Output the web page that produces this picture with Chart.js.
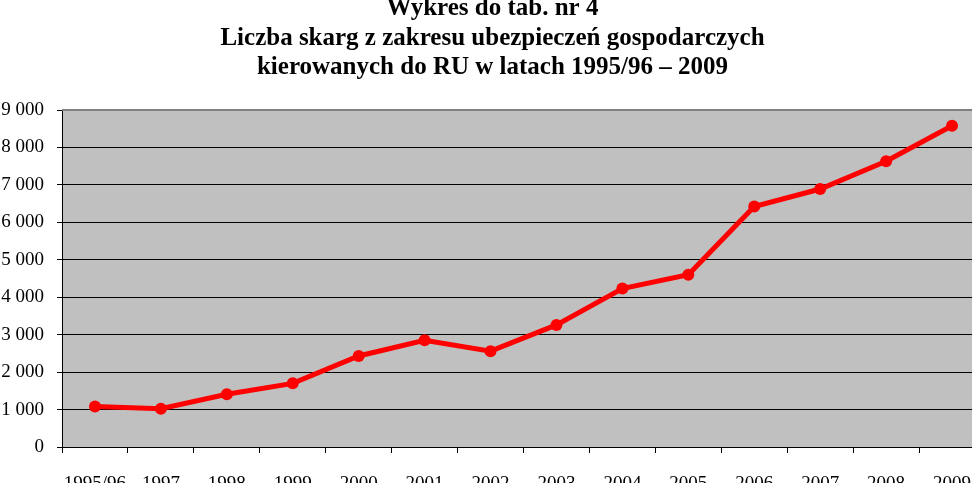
<!DOCTYPE html>
<html lang="pl">
<head>
<meta charset="utf-8">
<title>Wykres do tab. nr 4</title>
<script src="https://cdn.jsdelivr.net/npm/chart.js@4/dist/chart.umd.min.js"></script>
<style>
  html, body { margin: 0; padding: 0; background: #fff; overflow: hidden; }
  #wrap { width: 972px; height: 483px; position: relative; overflow: hidden; }
  /* the original plot runs past the right edge of the picture */
  #box { width: 992px; height: 483px; position: absolute; left: 0; top: 0; }
</style>
</head>
<body>
<div id="wrap"><div id="box"><canvas id="chart"></canvas></div></div>
<script>
// ---------- Data ----------
const titleLines = [
  "Wykres do tab. nr 4",
  "Liczba skarg z zakresu ubezpieczeń gospodarczych",
  "kierowanych do RU w latach 1995/96 – 2009"
];
const years = ["1995/96", "1997", "1998", "1999", "2000", "2001", "2002",
               "2003", "2004", "2005", "2006", "2007", "2008", "2009"];
const complaints = [1080, 1020, 1410, 1700, 2430, 2850, 2560,
                    3260, 4230, 4600, 6420, 6890, 7630, 8580];
const yMin = 0, yMax = 9000, yStep = 1000;

const serif = "'Liberation Serif', 'Times New Roman', serif";

// gray plot background + gray top frame
const plotFrame = {
  id: "plotFrame",
  beforeDraw(chart) {
    const { ctx, chartArea: a } = chart;
    ctx.save();
    ctx.fillStyle = "#c0c0c0";
    ctx.fillRect(a.left, a.top, a.right - a.left, a.bottom - a.top);
    ctx.restore();
  },
  beforeDatasetsDraw(chart) {
    const { ctx, chartArea: a } = chart;
    ctx.save();
    ctx.strokeStyle = "#808080";
    ctx.lineWidth = 2;
    ctx.beginPath();
    ctx.moveTo(a.left, a.top);
    ctx.lineTo(a.right, a.top);
    ctx.lineTo(a.right, a.bottom);
    ctx.stroke();
    ctx.restore();
  }
};

const fmt = (v) => String(v).replace(/\B(?=(\d{3})+(?!\d))/g, " ");

new Chart(document.getElementById("chart"), {
  type: "line",
  data: {
    labels: years,
    datasets: [{
      data: complaints,
      borderColor: "#ff0000",
      backgroundColor: "#ff0000",
      borderWidth: 5,
      pointRadius: 6,
      pointHoverRadius: 6,
      pointBorderWidth: 0,
      tension: 0,
      clip: false
    }]
  },
  options: {
    responsive: true,
    maintainAspectRatio: false,
    animation: false,
    layout: { padding: { left: 0, right: 7, top: 0, bottom: 0 } },
    plugins: {
      legend: { display: false },
      tooltip: { enabled: false },
      title: {
        display: true,
        text: titleLines,
        color: "#000",
        font: { family: serif, size: 25, weight: "bold", lineHeight: 1.18 },
        padding: { top: -6, bottom: 27.5 }
      }
    },
    scales: {
      x: {
        offset: true,
        grid: { offset: true, drawOnChartArea: false, drawTicks: true, tickLength: 6, tickColor: "#000", lineWidth: 1 },
        border: { display: true, color: "#000", width: 1 },
        ticks: { color: "#000", font: { family: serif, size: 19 }, padding: 20, maxRotation: 0, autoSkip: false },
        afterFit(s) { s.height = 36; s.paddingLeft = 0; s.paddingRight = 0; }
      },
      y: {
        min: yMin, max: yMax,
        grid: {
          color: (c) => c.tick && c.tick.value === yMax ? "rgba(0,0,0,0)" : "#000",
          tickColor: "#000",
          tickLength: 5,
          lineWidth: 1
        },
        border: { display: true, color: "#000", width: 1 },
        ticks: { stepSize: yStep, color: "#000", font: { family: serif, size: 19 }, padding: 13, callback: fmt },
        afterFit(s) { s.width = 62; s.paddingTop = 0; s.paddingBottom = 0; }
      }
    }
  },
  plugins: [plotFrame]
});
</script>
</body>
</html>
